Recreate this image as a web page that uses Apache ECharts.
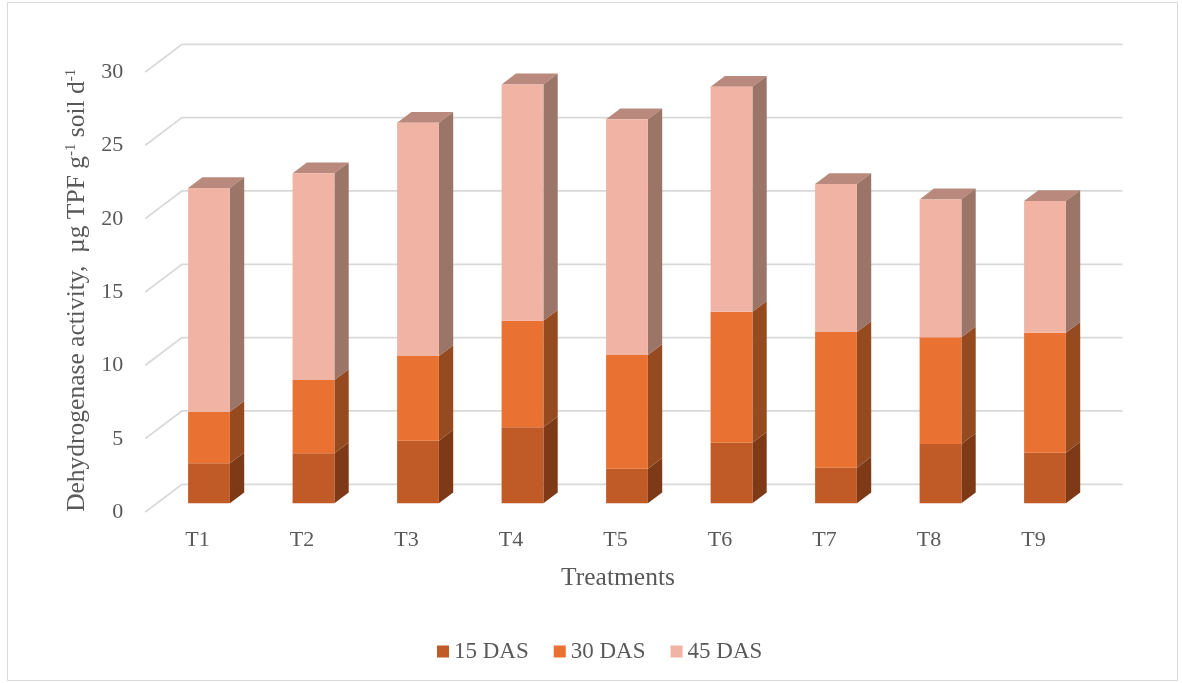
<!DOCTYPE html>
<html>
<head>
<meta charset="utf-8">
<script src="https://cdn.jsdelivr.net/npm/echarts@6/dist/echarts.min.js"></script>
<style>
  html, body { margin: 0; padding: 0; background: #ffffff; }
  #chart { width: 1182px; height: 683px; }
</style>
</head>
<body>
<div id="chart"></div>
<script>
// Treatments on the category axis
const categories = ['T1', 'T2', 'T3', 'T4', 'T5', 'T6', 'T7', 'T8', 'T9'];
// Dehydrogenase activity per sampling stage (stacked)
const das15 = [2.73, 3.41, 4.27, 5.18, 2.36, 4.13, 2.43, 4.04, 3.45];
const das30 = [3.51, 4.99, 5.77, 7.27, 7.75, 8.93, 9.25, 7.28, 8.18];
const das45 = [15.25, 14.10, 15.90, 16.11, 16.07, 15.34, 10.09, 9.40, 8.98];
const seriesNames = ['15 DAS', '30 DAS', '45 DAS'];
// Value axis ticks
const yTicks = [0, 5, 10, 15, 20, 25, 30];

const FONT = '"Liberation Serif", "Times New Roman", serif';
const TEXT = '#595959';

// face colours: front, side, top
const faces = [
  { front: '#C05A26', side: '#7E3A17', top: '#A04B20' },
  { front: '#E97132', side: '#954A1F', top: '#C2602A' },
  { front: '#F1B3A3', side: '#9A7568', top: '#B8897C' }
];

// oblique projection, expressed as fractions of one category band
const BAR_FRAC = 0.4;          // bar front width
const BAR_DEPTH = 0.137;       // bar depth (horizontal component)
const WALL_SHIFT = 0.241;      // back wall behind bar front plane
const FLOOR_DEPTH = 0.351;     // full floor depth
const SLOPE = 0.755;           // vertical / horizontal of the depth direction

const values = [das15, das30, das45];

function stackedData(k) {
  return categories.map((c, i) => {
    let base = 0;
    for (let j = 0; j < k; j++) base += values[j][i];
    return [i, base, base + values[k][i]];
  });
}

function barRender(k) {
  const isTop = k === values.length - 1;
  return function (params, api) {
    const i = api.value(0);
    const lo = api.coord([i, api.value(1)]);
    const hi = api.coord([i, api.value(2)]);
    const band = api.size([1, 0])[0];
    const bw = band * BAR_FRAC;
    const dx = band * BAR_DEPTH;
    const dy = -dx * SLOPE;
    const x0 = lo[0] - bw / 2;
    const x1 = x0 + bw;
    const c = faces[k];
    const children = [
      {
        type: 'polygon',
        shape: { points: [[x1, lo[1]], [x1, hi[1]], [x1 + dx, hi[1] + dy], [x1 + dx, lo[1] + dy]] },
        style: { fill: c.side }
      },
      {
        type: 'rect',
        shape: { x: x0, y: hi[1], width: bw, height: lo[1] - hi[1] },
        style: { fill: c.front }
      }
    ];
    if (isTop) {
      children.unshift({
        type: 'polygon',
        shape: { points: [[x0, hi[1]], [x1, hi[1]], [x1 + dx, hi[1] + dy], [x0 + dx, hi[1] + dy]] },
        style: { fill: c.top }
      });
    }
    return { type: 'group', children: children };
  };
}

function gridRender(params, api) {
  const p = api.coord([0, api.value(1)]);
  const band = api.size([1, 0])[0];
  const cs = params.coordSys;
  const wx = band * WALL_SHIFT;
  const wy = -wx * SLOPE;
  const fx = band * FLOOR_DEPTH;
  const fy = fx * SLOPE;
  const bx = cs.x + wx, by = p[1] + wy;
  return {
    type: 'polyline',
    shape: { points: [[bx - fx, by + fy], [bx, by], [cs.x + cs.width + wx, by]] },
    style: { stroke: '#D9D9D9', lineWidth: 1.8, fill: null }
  };
}

const series = [{
  name: 'grid',
  type: 'custom',
  renderItem: gridRender,
  data: yTicks.map(v => [0, v]),
  encode: { x: 0, y: 1 },
  silent: true,
  clip: false,
  z: 1
}];
seriesNames.forEach((name, k) => {
  series.push({
    name: name,
    type: 'custom',
    renderItem: barRender(k),
    data: stackedData(k),
    encode: { x: 0, y: [1, 2] },
    itemStyle: { color: faces[k].front },
    clip: false,
    z: 2 + k
  });
});

const chart = echarts.init(document.getElementById('chart'), null, { renderer: 'canvas' });
chart.setOption({
  animation: false,
  backgroundColor: '#ffffff',
  textStyle: { fontFamily: FONT, color: TEXT },
  graphic: [{
    type: 'rect',
    shape: { x: 7.5, y: 2.5, width: 1170, height: 678 },
    style: { fill: null, stroke: '#D9D9D9', lineWidth: 1 },
    silent: true,
    z: -10
  }],
  grid: { left: 156.75, width: 940.5, top: 63.3, height: 440 },
  legend: {
    data: seriesNames,
    top: 635,
    left: 432,
    icon: 'rect',
    itemWidth: 12,
    itemHeight: 12,
    itemGap: 25,
    textStyle: { fontFamily: FONT, fontSize: 23, color: TEXT }
  },
  xAxis: {
    type: 'category',
    data: categories,
    axisLine: { show: false },
    axisTick: { show: false },
    splitLine: { show: false },
    axisLabel: {
      fontFamily: FONT, fontSize: 22, color: TEXT,
      margin: 26, padding: [0, 23, 0, 0]
    },
    name: 'Treatments',
    nameLocation: 'middle',
    nameGap: 62,
    nameTextStyle: { fontFamily: FONT, fontSize: 25.5, color: TEXT, padding: [0, 18, 0, 0] }
  },
  yAxis: {
    type: 'value',
    min: 0,
    max: 30,
    interval: 5,
    axisLine: { show: false },
    axisTick: { show: false },
    splitLine: { show: false },
    axisLabel: {
      fontFamily: FONT, fontSize: 22, color: TEXT,
      margin: 33.5, verticalAlign: 'top', lineHeight: 18,
      formatter: v => (yTicks.indexOf(v) >= 0 ? String(v) : '')
    },
    name: '{t|Dehydrogenase activity,  µg TPF g}{s|-1}{t| soil d}{s|-1}',
    nameLocation: 'middle',
    nameGap: 60,
    nameTextStyle: {
      fontFamily: FONT, color: TEXT, padding: [0, 14, 0, 0],
      rich: {
        t: { fontFamily: FONT, fontSize: 25.5, color: TEXT, lineHeight: 28 },
        s: { fontFamily: FONT, fontSize: 15, color: TEXT, verticalAlign: 'top', lineHeight: 28 }
      }
    }
  },
  series: series
});
</script>
</body>
</html>
